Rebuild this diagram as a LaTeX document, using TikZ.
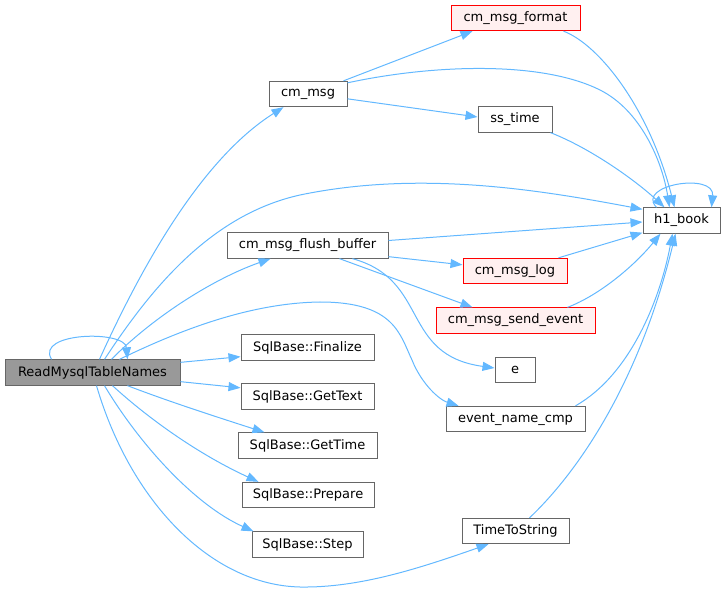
\documentclass[tikz,border=0pt]{standalone}
\usepackage{fontspec}
\setmainfont{DejaVu Sans}
\usetikzlibrary{calc,arrows.meta}
\definecolor{edgec}{HTML}{63B8FF}
\definecolor{bordc}{HTML}{666666}
\definecolor{rootfill}{HTML}{999999}
\definecolor{redfill}{HTML}{FFF0F0}
\definecolor{redbord}{HTML}{FF0000}
\begin{document}
\begin{tikzpicture}[x=0.75pt,y=-0.75pt,
  fnbox/.style={draw=bordc,fill=white,line width=0.75pt,inner sep=0pt,
    minimum height=19pt,minimum width=#1*0.75pt,
    font=\fontsize{9.75pt}{11pt}\selectfont},
  rootbox/.style={fnbox=#1,fill=rootfill},
  redbox/.style={fnbox=#1,draw=redbord,fill=redfill},
  calls/.style={draw=edgec,line width=0.75pt,
    -{Triangle[length=9pt,width=6.75pt]}}]
\useasboundingbox (0,0) rectangle (725,595);

% nodes
\node[rootbox=175] (root) at (92.5,372.5) {ReadMysqlTableNames};
\node[fnbox=78] (cmmsg) at (308,94) {cm\_msg};
\node[redbox=129] (fmt) at (515.5,18) {cm\_msg\_format};
\node[fnbox=74] (sstime) at (515,119.5) {ss\_time};
\node[fnbox=77] (h1) at (681.5,220.5) {h1\_book};
\node[fnbox=161] (flush) at (307.5,245.5) {cm\_msg\_flush\_buffer};
\node[redbox=104] (log) at (515,271) {cm\_msg\_log};
\node[redbox=159] (send) at (515.5,320.5) {cm\_msg\_send\_event};
\node[fnbox=40] (e) at (515,370) {e};
\node[fnbox=133] (fin) at (307.5,347.5) {SqlBase::Finalize};
\node[fnbox=133] (gtext) at (307.5,396.5) {SqlBase::GetText};
\node[fnbox=139] (enc) at (515.5,419) {event\_name\_cmp};
\node[fnbox=139] (gtime) at (307.5,445.5) {SqlBase::GetTime};
\node[fnbox=132] (prep) at (308,495) {SqlBase::Prepare};
\node[fnbox=111] (step) at (307.5,544.5) {SqlBase::Step};
\node[fnbox=107] (tts) at (515.5,531) {TimeToString};

% edges from ReadMysqlTableNames
\draw[calls] ($(root.north west)+(47,0)$) .. controls (35,332) and (125,330) .. ($(root.north west)+(123,0)$);
\draw[calls] ($(root.north west)+(95,0)$) .. controls (140,270) and (200,160) .. ($(cmmsg.south west)+(15,0)$);
\draw[calls] ($(root.north west)+(100,0)$) .. controls (150,290) and (210,215) .. (300,195)
  .. controls (420,170) and (540,190) .. ($(h1.north west)+(0,2)$);
\draw[calls] ($(root.north west)+(107,0)$) .. controls (150,320) and (210,280) .. ($(flush.south west)+(44,0)$);
\draw[calls] ($(root.north west)+(115,0)$) .. controls (180,330) and (250,303) .. (320,302)
  .. controls (395,302) and (400,335) .. (412,360)
  .. controls (422,385) and (440,400) .. ($(enc.north west)+(13,0)$);
\draw[calls] ($(root.north east)+(0,3)$) -- ($(fin.south west)+(0,-4)$);
\draw[calls] ($(root.south east)+(0,-4)$) -- ($(gtext.north west)+(0,4.5)$);
\draw[calls] ($(root.south west)+(123,0)$) .. controls (170,402) and (220,418) .. ($(gtime.north west)+(27,0)$);
\draw[calls] ($(root.south west)+(108,0)$) .. controls (150,420) and (200,455) .. ($(prep.north west)+(17,0)$);
\draw[calls] ($(root.south west)+(100,0)$) .. controls (140,445) and (195,505) .. ($(step.north west)+(2,0)$);
\draw[calls] ($(root.south west)+(92,0)$) .. controls (130,500) and (210,585) .. (300,587)
  .. controls (360,588) and (420,568) .. ($(tts.south west)+(27,0)$);

% edges from cm_msg
\draw[calls] ($(cmmsg.north east)+(-4,0)$) -- ($(fmt.south west)+(22,0)$);
\draw[calls] ($(cmmsg.north east)+(0,2)$) .. controls (430,65) and (540,60) .. (600,90)
  .. controls (640,110) and (662,160) .. ($(h1.north west)+(27,0)$);
\draw[calls] ($(cmmsg.north east)+(0,18)$) -- ($(sstime.west)+(0,-2.5)$);
\draw[calls] ($(fmt.south east)+(-17,0)$) .. controls (600,45) and (650,110) .. ($(h1.north west)+(32,0)$);
\draw[calls] ($(sstime.south east)+(-2,0)$) .. controls (590,148) and (635,180) .. ($(h1.north west)+(22,0)$);
\draw[calls] ($(h1.north west)+(14,0)$) .. controls (635,185) and (715,172) .. ($(h1.north west)+(69,0)$);

% edges from cm_msg_flush_buffer
\draw[calls] ($(flush.east)+(0,-5)$) -- ($(h1.west)+(0,1.5)$);
\draw[calls] ($(flush.south east)+(0,-2)$) -- ($(log.north west)+(0,7)$);
\draw[calls] ($(flush.south west)+(113,0)$) -- ($(send.north west)+(37,0)$);
\draw[calls] ($(flush.south west)+(126,0)$) .. controls (430,280) and (400,355) .. ($(e.west)+(0,-2)$);

% edges into h1_book
\draw[calls] ($(log.north east)+(-9,0)$) -- ($(h1.south west)+(0,-1)$);
\draw[calls] ($(send.north east)+(-28,0)$) .. controls (600,295) and (635,265) .. ($(h1.south west)+(18,0)$);
\draw[calls] ($(enc.north east)+(-10,0)$) .. controls (630,375) and (660,300) .. ($(h1.south west)+(30,0)$);
\draw[calls] ($(tts.north west)+(68,0)$) .. controls (580,470) and (640,380) .. ($(h1.south west)+(33,0)$);
\end{tikzpicture}
\end{document}
